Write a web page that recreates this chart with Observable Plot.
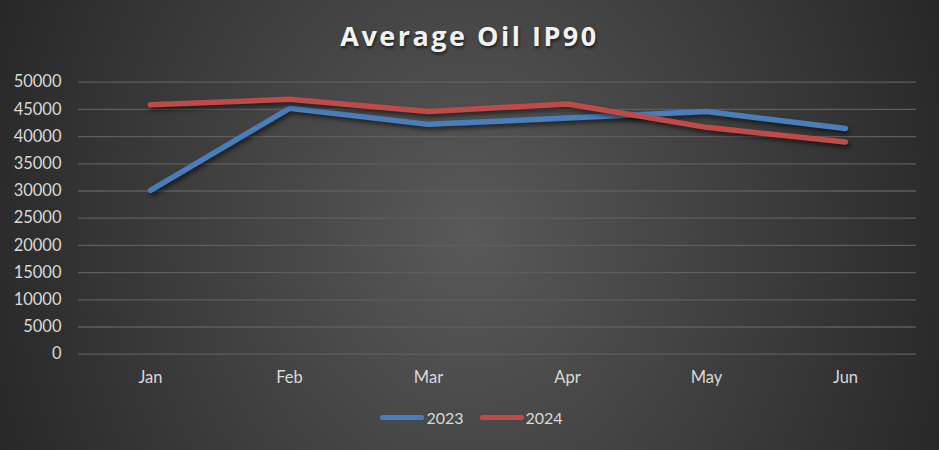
<!DOCTYPE html>
<html>
<head>
<meta charset="utf-8">
<script src="https://cdn.jsdelivr.net/npm/d3@7"></script>
<script src="https://cdn.jsdelivr.net/npm/@observablehq/plot@0.6"></script>
<style>
  html, body { margin: 0; padding: 0; background: #262626; }
  #chart {
    position: relative; width: 939px; height: 450px; overflow: hidden;
    background: radial-gradient(ellipse 520px 620px at 50% 52%, #595959 0%, #262626 100%);
    font-family: Lato, "Open Sans", sans-serif;
  }
  #title {
    position: absolute; left: 0; width: 939px; top: 17px; text-align: center;
    font-family: "Open Sans", sans-serif; font-weight: 700; font-size: 27px;
    letter-spacing: 2.5px; color: #f2f2f2; text-shadow: 1px 2px 3px rgba(0,0,0,0.6);
  }
  #plot { position: absolute; left: 0; top: 0; }
  #legend {
    position: absolute; top: 408px; left: 0; width: 939px;
    display: flex; justify-content: center; gap: 16px; padding-left: 4px; box-sizing: border-box;
    font-size: 16px; color: #d9d9d9;
  }
  .item { display: flex; align-items: center; gap: 2px; }
  .sw { width: 44px; height: 5px; border-radius: 3px; display: inline-block; }
</style>
</head>
<body>
<div id="chart">
  <div id="title">Average Oil IP90</div>
  <div id="plot"></div>
  <div id="legend"></div>
</div>
<script>
const months = ["Jan", "Feb", "Mar", "Apr", "May", "Jun"];
const series = ["2023", "2024"];
const values2023 = [30100, 45200, 42250, 43400, 44600, 41500];
const values2024 = [45850, 46850, 44600, 46000, 41700, 39000];
const colors = ["#4A7EBB", "#BE4B48"];
const yTicks = [0, 5000, 10000, 15000, 20000, 25000, 30000, 35000, 40000, 45000, 50000];

const data = [];
months.forEach((m, i) => {
  data.push({month: m, series: series[0], value: values2023[i]});
  data.push({month: m, series: series[1], value: values2024[i]});
});

const svg = Plot.plot({
  width: 939,
  height: 400,
  marginLeft: 78,
  marginRight: 23,
  marginTop: 81.7,
  marginBottom: 46.3,
  style: {background: "transparent", color: "#d9d9d9", fontSize: "16px", fontFamily: "Lato, 'Open Sans', sans-serif", overflow: "visible"},
  x: {type: "point", domain: months, padding: 0.5, label: null},
  y: {domain: [0, 50000], label: null},
  color: {domain: series, range: colors},
  marks: [
    Plot.gridY(yTicks, {stroke: "#5e5e5e", strokeOpacity: 1, strokeWidth: 1.3}),
    Plot.axisY(yTicks, {tickSize: 0, tickPadding: 17, tickFormat: d => String(d), fill: "#d9d9d9", fontSize: 16.5, label: null}),
    Plot.axisX({tickSize: 0, tickPadding: 17, fill: "#d9d9d9", fontSize: 16.5, label: null}),
    Plot.line(data, {x: "month", y: "value", z: "series", stroke: "series", strokeWidth: 5.5, strokeLinecap: "round", strokeLinejoin: "round"})
  ]
});
d3.select(svg).selectAll('g[aria-label="line"] path').style("filter", "drop-shadow(2px 3px 2px rgba(0,0,0,0.55))");
document.getElementById("plot").appendChild(svg);

const legend = document.getElementById("legend");
series.forEach((s, i) => {
  const item = document.createElement("div");
  item.className = "item";
  const sw = document.createElement("span");
  sw.className = "sw";
  sw.style.background = colors[i];
  const t = document.createElement("span");
  t.textContent = s;
  item.appendChild(sw); item.appendChild(t);
  legend.appendChild(item);
});
</script>
</body>
</html>
